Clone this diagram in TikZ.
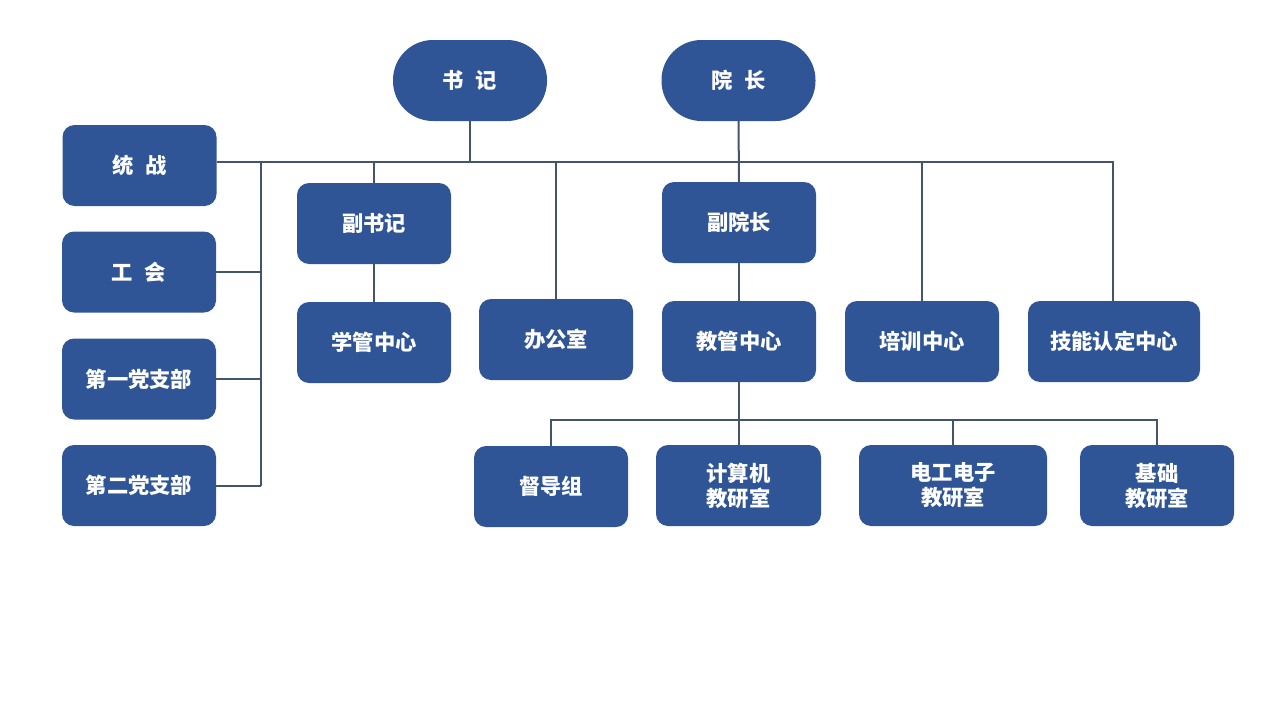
\documentclass[tikz,border=0pt]{standalone}
\usepackage{fontspec}
\setmainfont{Noto Sans CJK SC}
\definecolor{boxblue}{HTML}{2F5597}
\definecolor{linegray}{HTML}{44546A}
\tikzset{
  orgbox/.style={rectangle, rounded corners=12pt, fill=boxblue, text=white,
    minimum width=154pt, minimum height=81pt, inner sep=0pt, align=center,
    font=\fontsize{21.3pt}{25pt}\selectfont\bfseries},
  pillbox/.style={orgbox, rounded corners=40pt},
  link/.style={draw=linegray, line width=2pt}
}
\begin{document}
\begin{tikzpicture}[x=1pt,y=-1pt]
\useasboundingbox (0,0) rectangle (1280,720);
% top
\node[pillbox] (sj) at (470,80.5) {书\hspace{0.55em}记};
\node[pillbox] (yz) at (738.5,80.5) {院\hspace{0.55em}长};
% left column
\node[orgbox] (tz) at (139.5,165.5) {统\hspace{0.55em}战};
\node[orgbox] (gh) at (139,272) {工\hspace{0.55em}会};
\node[orgbox] (dz1) at (139,379) {第一党支部};
\node[orgbox] (dz2) at (139,485.5) {第二党支部};
% second level
\node[orgbox] (fsj) at (374,223.5) {副书记};
\node[orgbox] (xg) at (374,342.5) {学管中心};
\node[orgbox] (bgs) at (556,339.5) {办公室};
\node[orgbox] (fyz) at (739,222.5) {副院长};
\node[orgbox] (jg) at (739,341.5) {教管中心};
\node[orgbox] (px) at (922,341.5) {培训中心};
\node[orgbox, minimum width=172pt] (jn) at (1114,341.5) {技能认定中心};
% bottom
\node[orgbox] (ddz) at (551,486.5) {督导组};
\node[orgbox, minimum width=165pt] (jsj) at (738.5,485.5) {计算机\\教研室};
\node[orgbox, minimum width=188pt] (dg) at (953,485.5) {电工电子\\教研室};
\node[orgbox] (jc) at (1157,485.5) {基础\\教研室};
% connectors
\coordinate (busR) at (1113,162);
\coordinate (lv) at (261,162);
\coordinate (bus2) at (738,420);
\draw[link] (tz.east |- busR) -- (busR) -- (busR |- jn.north);
\draw[link] (sj.south) -- (sj.south |- busR);
\draw[link] (yz.south) -- (fyz.north);
\draw[link] (lv) -- (lv |- dz2.east);
\draw[link] (gh.east) -- (gh.east -| lv);
\draw[link] (dz1.east) -- (dz1.east -| lv);
\draw[link] (dz2.east) -- (dz2.east -| lv);
\draw[link] (fsj.north) -- (fsj.north |- busR);
\draw[link] (fsj.south) -- (xg.north);
\draw[link] (bgs.north) -- (bgs.north |- busR);
\draw[link] (px.north) -- (px.north |- busR);
\draw[link] (fyz.south) -- (jg.north);
\draw[link] (jg.south) -- (jg.south |- bus2);
\draw[link] (ddz.north) -- (ddz.north |- bus2) -- (jc.north |- bus2) -- (jc.north);
\draw[link] (jsj.north) -- (jsj.north |- bus2);
\draw[link] (dg.north) -- (dg.north |- bus2);
\end{tikzpicture}
\end{document}
